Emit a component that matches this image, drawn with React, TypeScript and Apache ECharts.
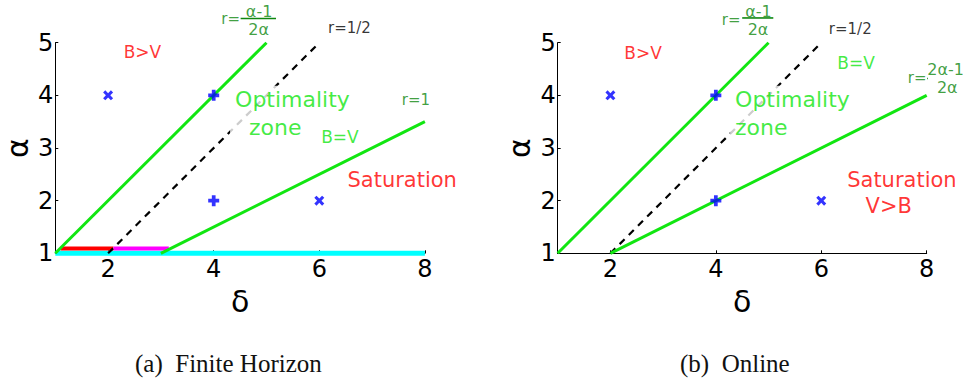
import React, { useEffect, useRef } from "react";
import * as echarts from "echarts";

// ---------- data ----------
const deltaTicks = [2, 4, 6, 8];
const alphaTicks = [1, 2, 3, 4, 5];

// (a) Finite Horizon
const finiteLowerBoundary = [[1, 1], [5, 5]]; // r=(α-1)/2α
const finiteHalfLine = [[2, 1], [6, 5]]; // r=1/2
const finiteUpperBoundary = [[3, 1], [8, 3.5]]; // r=1
const finiteCyanBand = [[1, 1], [8, 1]];
const finiteRedBand = [[1.1, 1.09], [2.1, 1.09]];
const finiteMagentaBand = [[2.1, 1.09], [3.15, 1.09]];

// (b) Online
const onlineLowerBoundary = [[1, 1], [5, 5]]; // r=(α-1)/2α
const onlineHalfLine = [[2, 1], [6, 5]]; // r=1/2
const onlineUpperBoundary = [[2, 1], [8, 4]]; // r=(2α-1)/2α

// markers (same in both panels)
const crossPoints = [[2, 4], [6, 2]];
const plusPoints = [[4, 4], [4, 2]];

// annotation anchors [δ, α]
const finiteLabels = [
  { text: "B>V", at: [2.65, 4.82], kind: "red" },
  { text: "Optimality\n  zone", at: [4.31, 4.18], kind: "block" },
  { text: "B=V", at: [6.39, 3.21], kind: "bv" },
  { text: "r=1", at: [7.83, 3.91], kind: "r" },
  { text: "Saturation", at: [7.57, 2.39], kind: "sat" },
  { text: "r=1/2", at: [6.57, 5.28], kind: "half" },
  { text: "r=", at: [4.32, 5.45], kind: "r" },
  { text: "α-1", at: [4.86, 5.6], kind: "frac" },
  { text: "2α", at: [4.85, 5.26], kind: "frac" },
];
const finiteFractionBar = [[4.51, 5.46], [5.18, 5.46]];

const onlineLabels = [
  { text: "B>V", at: [2.62, 4.8], kind: "red" },
  { text: "r=", at: [4.29, 5.43], kind: "r" },
  { text: "α-1", at: [4.81, 5.6], kind: "frac" },
  { text: "2α", at: [4.8, 5.26], kind: "frac" },
  { text: "r=1/2", at: [6.55, 5.26], kind: "half" },
  { text: "B=V", at: [6.66, 4.62], kind: "bv" },
  { text: "r=", at: [7.82, 4.33], kind: "r" },
  { text: "2α-1", at: [8.36, 4.49], kind: "frac" },
  { text: "2α", at: [8.39, 4.15], kind: "frac" },
  { text: "Optimality\nzone", at: [4.27, 4.18], kind: "block" },
  { text: "Saturation", at: [7.53, 2.39], kind: "sat" },
  { text: "V>B", at: [7.28, 1.9], kind: "sat" },
];
const onlineFractionBar1 = [[4.5, 5.47], [5.09, 5.47]];
const onlineFractionBar2 = [[8.01, 4.32], [8.71, 4.32]];

// ---------- styles ----------
const GREEN = "#11e611";
const DARK_GREEN = "#0f870f";
const RED = "#ff0000";
const BLUE = "#0000ff";
const FONT = "DejaVu Sans";

const labelStyles: Record<string, { color: string; size: number }> = {
  red: { color: RED, size: 17 },
  block: { color: GREEN, size: 22 },
  bv: { color: GREEN, size: 17 },
  r: { color: DARK_GREEN, size: 15 },
  sat: { color: RED, size: 21 },
  half: { color: "#000000", size: 15 },
  frac: { color: DARK_GREEN, size: 16 },
};

const PLUS = "path://M3.3,0H6.7V3.3H10V6.7H6.7V10H3.3V6.7H0V3.3H3.3Z";
const CROSS =
  "path://M0,2.2L2.2,0L5,2.8L7.8,0L10,2.2L7.2,5L10,7.8L7.8,10L5,7.2L2.2,10L0,7.8L2.8,5Z";

function lineSeries(idx: number, data: number[][], color: string, width: number, type: any = "solid", z = 3) {
  return {
    type: "line",
    xAxisIndex: idx,
    yAxisIndex: idx,
    data,
    symbol: "none",
    clip: false,
    z,
    silent: true,
    lineStyle: { color, width, type, cap: "butt" },
  };
}

function markerSeries(idx: number, data: number[][], symbol: string, size: number) {
  return {
    type: "scatter",
    xAxisIndex: idx,
    yAxisIndex: idx,
    data,
    symbol,
    symbolSize: size,
    itemStyle: { color: BLUE },
    z: 9,
    silent: true,
  };
}

function labelSeries(idx: number, labels: { text: string; at: number[]; kind: string }[]) {
  return {
    type: "scatter",
    xAxisIndex: idx,
    yAxisIndex: idx,
    symbolSize: 0,
    clip: false,
    silent: true,
    z: 7,
    data: labels.map((l) => {
      const s = labelStyles[l.kind];
      const block = l.kind === "block";
      return {
        value: l.at,
        label: {
          show: true,
          formatter: l.text,
          position: [0, 0],
          align: block ? "left" : "center",
          verticalAlign: block ? "top" : "middle",
          color: s.color,
          fontSize: s.size,
          fontFamily: FONT,
          ...(block
            ? { backgroundColor: "#ffffff", padding: [0, 3, 2, 5], lineHeight: 28 }
            : {}),
        },
      };
    }),
  };
}

function axes(idx: number) {
  const x = {
    type: "value",
    gridIndex: idx,
    min: 1,
    max: 8,
    name: "δ",
    nameLocation: "middle",
    nameGap: 25,
    nameTextStyle: { fontSize: 30, fontFamily: FONT, color: "#000" },
    splitLine: { show: false },
    axisLine: { show: true, lineStyle: { color: "#000", width: 1 } },
    axisTick: { show: true, inside: true, length: 3, customValues: deltaTicks, lineStyle: { color: "#000" } },
    axisLabel: { customValues: deltaTicks, fontSize: 24, fontFamily: FONT, color: "#000", margin: 4 },
  };
  const y = {
    type: "value",
    gridIndex: idx,
    min: 1,
    max: 5,
    interval: 1,
    name: "α",
    nameLocation: "middle",
    nameGap: 23,
    nameTextStyle: { fontSize: 30, fontFamily: FONT, color: "#000" },
    splitLine: { show: false },
    axisLine: { show: true, lineStyle: { color: "#000", width: 1 } },
    axisTick: { show: true, inside: true, length: 3, lineStyle: { color: "#000" } },
    axisLabel: { fontSize: 24, fontFamily: FONT, color: "#000", margin: 2, customValues: alphaTicks },
  };
  return { x, y };
}

export default function App() {
  const ref = useRef<HTMLDivElement>(null);
  useEffect(() => {
    if (!ref.current) return;
    const chart = echarts.init(ref.current, null, { renderer: "svg" });
    const a0 = axes(0);
    const a1 = axes(1);
    chart.setOption({
      animation: false,
      backgroundColor: "#ffffff",
      grid: [
        { left: 55.3, top: 42.7, width: 369.6, height: 210.6 },
        { left: 557.7, top: 42.7, width: 369, height: 210.6 },
      ],
      xAxis: [a0.x, a1.x],
      yAxis: [a0.y, a1.y],
      graphic: [
        {
          type: "text",
          left: 135,
          top: 351,
          style: { text: "(a)  Finite Horizon", fontSize: 25, fontFamily: "Liberation Serif", fill: "#111" },
        },
        {
          type: "text",
          left: 680,
          top: 351,
          style: { text: "(b)  Online", fontSize: 25, fontFamily: "Liberation Serif", fill: "#111" },
        },
      ],
      series: [
        // (a)
        lineSeries(0, finiteCyanBand, "#00ffff", 5, "solid", 2),
        lineSeries(0, finiteRedBand, RED, 4, "solid", 3),
        lineSeries(0, finiteMagentaBand, "#ff00ff", 4, "solid", 3),
        lineSeries(0, finiteLowerBoundary, GREEN, 3, "solid", 8),
        lineSeries(0, finiteUpperBoundary, GREEN, 3, "solid", 8),
        lineSeries(0, finiteHalfLine, "#000", 2.2, [7, 6], 5),
        lineSeries(0, finiteFractionBar, DARK_GREEN, 1.6, "solid", 5),
        markerSeries(0, crossPoints, CROSS, 10),
        markerSeries(0, plusPoints, PLUS, 11),
        labelSeries(0, finiteLabels),
        // (b)
        lineSeries(1, onlineLowerBoundary, GREEN, 3, "solid", 8),
        lineSeries(1, onlineUpperBoundary, GREEN, 3, "solid", 8),
        lineSeries(1, onlineHalfLine, "#000", 2.2, [7, 6], 5),
        lineSeries(1, onlineFractionBar1, DARK_GREEN, 1.6, "solid", 5),
        lineSeries(1, onlineFractionBar2, DARK_GREEN, 1.6, "solid", 5),
        markerSeries(1, crossPoints, CROSS, 10),
        markerSeries(1, plusPoints, PLUS, 11),
        labelSeries(1, onlineLabels),
      ],
    });
    return () => chart.dispose();
  }, []);
  return (
    <div
      ref={ref}
      style={{ position: "absolute", left: 0, top: 0, width: 969, height: 387, background: "#fff" }}
    />
  );
}
